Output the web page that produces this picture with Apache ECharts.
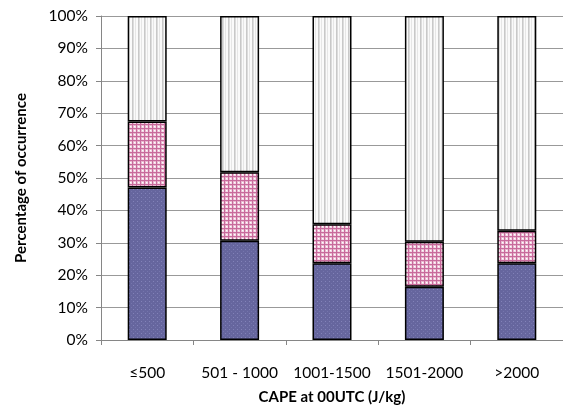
<!DOCTYPE html>
<html><head><meta charset="utf-8">
<script src="https://cdn.jsdelivr.net/npm/echarts@6/dist/echarts.min.js"></script>
<style>html,body{margin:0;padding:0;background:#fff}#c{width:563px;height:410px}</style>
</head><body><div id="c"></div>
<script>
const categories = ['≤500', '501 - 1000', '1001-1500', '1501-2000', '>2000'];
const lowSeries = [47.1, 30.6, 23.7, 16.4, 23.7];
const midSeries = [20.3, 21.2, 12.0, 13.9, 10.0];
const highSeries = [32.6, 48.2, 64.3, 69.7, 66.3];
const yTicks = [0, 10, 20, 30, 40, 50, 60, 70, 80, 90, 100];

function pattern(w, h, draw) {
  const c = document.createElement('canvas');
  c.width = w; c.height = h;
  const g = c.getContext('2d');
  draw(g, w, h);
  return { image: c, repeat: 'repeat' };
}
const blueFill = pattern(4, 4, (g, w, h) => {
  g.fillStyle = '#66669e'; g.fillRect(0, 0, w, h);
  g.fillStyle = '#8282b8'; g.fillRect(1, 1, 1, 1);
  g.fillStyle = '#7474ac'; g.fillRect(3, 3, 1, 1);
});
const pinkFill = pattern(4, 4, (g, w, h) => {
  g.fillStyle = '#ffffff'; g.fillRect(0, 0, w, h);
  g.fillStyle = '#f3dae6'; g.fillRect(0, 3, w, 1); g.fillRect(3, 0, 1, h);
  g.fillStyle = '#e8b6ce'; g.fillRect(0, 1, w, 1); g.fillRect(1, 0, 1, h);
  g.fillStyle = '#c86a9c'; g.fillRect(0, 0, w, 1); g.fillRect(0, 0, 1, h);
});
const grayFill = pattern(6, 4, (g, w, h) => {
  g.fillStyle = '#fafafa'; g.fillRect(0, 0, w, h);
  g.fillStyle = '#c8c8c8'; g.fillRect(0, 0, 1, h);
  g.fillStyle = '#dcdcdc'; g.fillRect(1, 0, 1, h);
  g.fillStyle = '#e6e6e6'; g.fillRect(3, 0, 1, h);
});

const font = 'Lato, "Open Sans", sans-serif';
const chart = echarts.init(document.getElementById('c'), null, { renderer: 'canvas' });
const barStyle = (fill) => ({ color: fill, borderColor: '#000', borderWidth: 1.5 });
chart.setOption({
  animation: false,
  backgroundColor: '#fff',
  grid: { left: 101, right: 0, top: 16, bottom: 70, containLabel: false },
  xAxis: {
    type: 'category', data: categories,
    name: 'CAPE at 00UTC (J/kg)', nameLocation: 'middle', nameGap: 50,
    nameTextStyle: { fontFamily: font, fontWeight: 'bold', fontSize: 15, color: '#000' },
    axisLine: { lineStyle: { color: '#868686', width: 1 } },
    axisTick: { show: true, length: 5, lineStyle: { color: '#868686' } },
    axisLabel: { fontFamily: font, fontSize: 15.5, color: '#000', margin: 25, interval: 0, hideOverlap: false },
  },
  yAxis: {
    type: 'value', min: 0, max: 100, interval: 10,
    name: 'Percentage of occurrence', nameLocation: 'middle', nameGap: 72,
    nameTextStyle: { fontFamily: font, fontWeight: 'bold', fontSize: 15, color: '#000' },
    axisLine: { show: true, lineStyle: { color: '#868686', width: 1 } },
    axisTick: { show: true, length: 5, lineStyle: { color: '#868686' } },
    axisLabel: { fontFamily: font, fontSize: 15.5, color: '#000', margin: 13,
      formatter: (v) => yTicks.includes(v) ? v + '%' : '' },
    splitLine: { lineStyle: { color: '#999', width: 1 } },
  },
  series: [
    { type: 'bar', stack: 's', data: lowSeries, barWidth: 39, itemStyle: barStyle(blueFill) },
    { type: 'bar', stack: 's', data: midSeries, barWidth: 39, itemStyle: barStyle(pinkFill) },
    { type: 'bar', stack: 's', data: highSeries, barWidth: 39, itemStyle: barStyle(grayFill) },
  ],
});
</script></body></html>
